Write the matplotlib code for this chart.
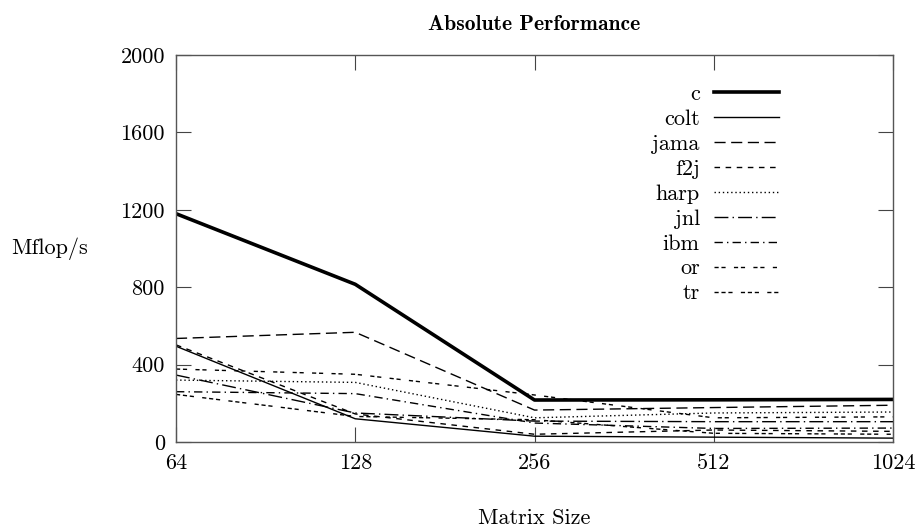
import matplotlib
matplotlib.use('Agg')
import matplotlib.pyplot as plt
from matplotlib import rcParams
from matplotlib.ticker import FixedLocator, FixedFormatter, NullLocator

# Fuente tipo Computer Modern (incluida con matplotlib)
rcParams['font.family'] = 'cmr10'
rcParams['axes.formatter.use_mathtext'] = True
rcParams['font.size'] = 16

# Tamaños de matriz y rendimiento (Mflop/s) por biblioteca
sizes = [64, 128, 256, 512, 1024]
c = [1180, 815, 217, 218, 220]
colt = [495, 120, 30, 25, 20]
jama = [535, 567, 165, 178, 190]
f2j = [502, 145, 40, 62, 55]
harp = [320, 308, 125, 150, 155]
jnl = [346, 150, 108, 105, 105]
ibm = [260, 250, 98, 70, 72]
or_ = [377, 350, 243, 125, 130]
tr = [246, 132, 115, 45, 40]

ytick_vals = [0, 400, 800, 1200, 1600, 2000]

series = [
    ('c', c, dict(linestyle='-', linewidth=2.6)),
    ('colt', colt, dict(linestyle='-', linewidth=1.0)),
    ('jama', jama, dict(linestyle=(0, (8, 4)), linewidth=1.0)),
    ('f2j', f2j, dict(linestyle=(0, (4, 4)), linewidth=1.0)),
    ('harp', harp, dict(linestyle=(0, (1, 2)), linewidth=1.0)),
    ('jnl', jnl, dict(linestyle=(0, (10, 3, 1, 3)), linewidth=1.0)),
    ('ibm', ibm, dict(linestyle=(0, (6, 3, 1, 3)), linewidth=1.0)),
    ('or', or_, dict(linestyle=(0, (3, 2, 3, 6)), linewidth=1.0)),
    ('tr', tr, dict(linestyle=(0, (3, 2, 3, 2, 3, 6)), linewidth=1.0)),
]

fig = plt.figure(figsize=(9.22, 5.27), dpi=100)
ax = fig.add_axes([176 / 922, 85 / 527, 717 / 922, 387 / 527])

for name, vals, style in series:
    ax.plot(sizes, vals, color='black', label=name, **style)

ax.set_xscale('log', base=2)
ax.set_xlim(64, 1024)
ax.set_ylim(0, 2000)
ax.xaxis.set_major_locator(FixedLocator(sizes))
ax.xaxis.set_major_formatter(FixedFormatter([str(s) for s in sizes]))
ax.xaxis.set_minor_locator(NullLocator())
ax.set_yticks(ytick_vals)
ax.set_yticklabels([str(v) for v in ytick_vals])

ax.tick_params(direction='in', length=11, width=0.8, top=True, right=True,
               labelsize=16, pad=8, color='#444444')
for sp in ax.spines.values():
    sp.set_linewidth(1.0)
    sp.set_color('#555555')

ax.set_title('Absolute Performance', fontfamily='cmb10', fontsize=15.5, pad=18)
ax.set_xlabel('Matrix Size', fontsize=16, labelpad=26)
ax.set_ylabel('Mflop/s', fontsize=16, rotation=0, ha='right', va='center')
ax.yaxis.set_label_coords(-0.123, 0.5)

ax.legend(loc='upper right', bbox_to_anchor=(0.856, 0.952), frameon=False,
          markerfirst=False, handlelength=2.9, handletextpad=0.65,
          labelspacing=0.24, borderpad=0, fontsize=16)

fig.savefig('out.png', dpi=100)
